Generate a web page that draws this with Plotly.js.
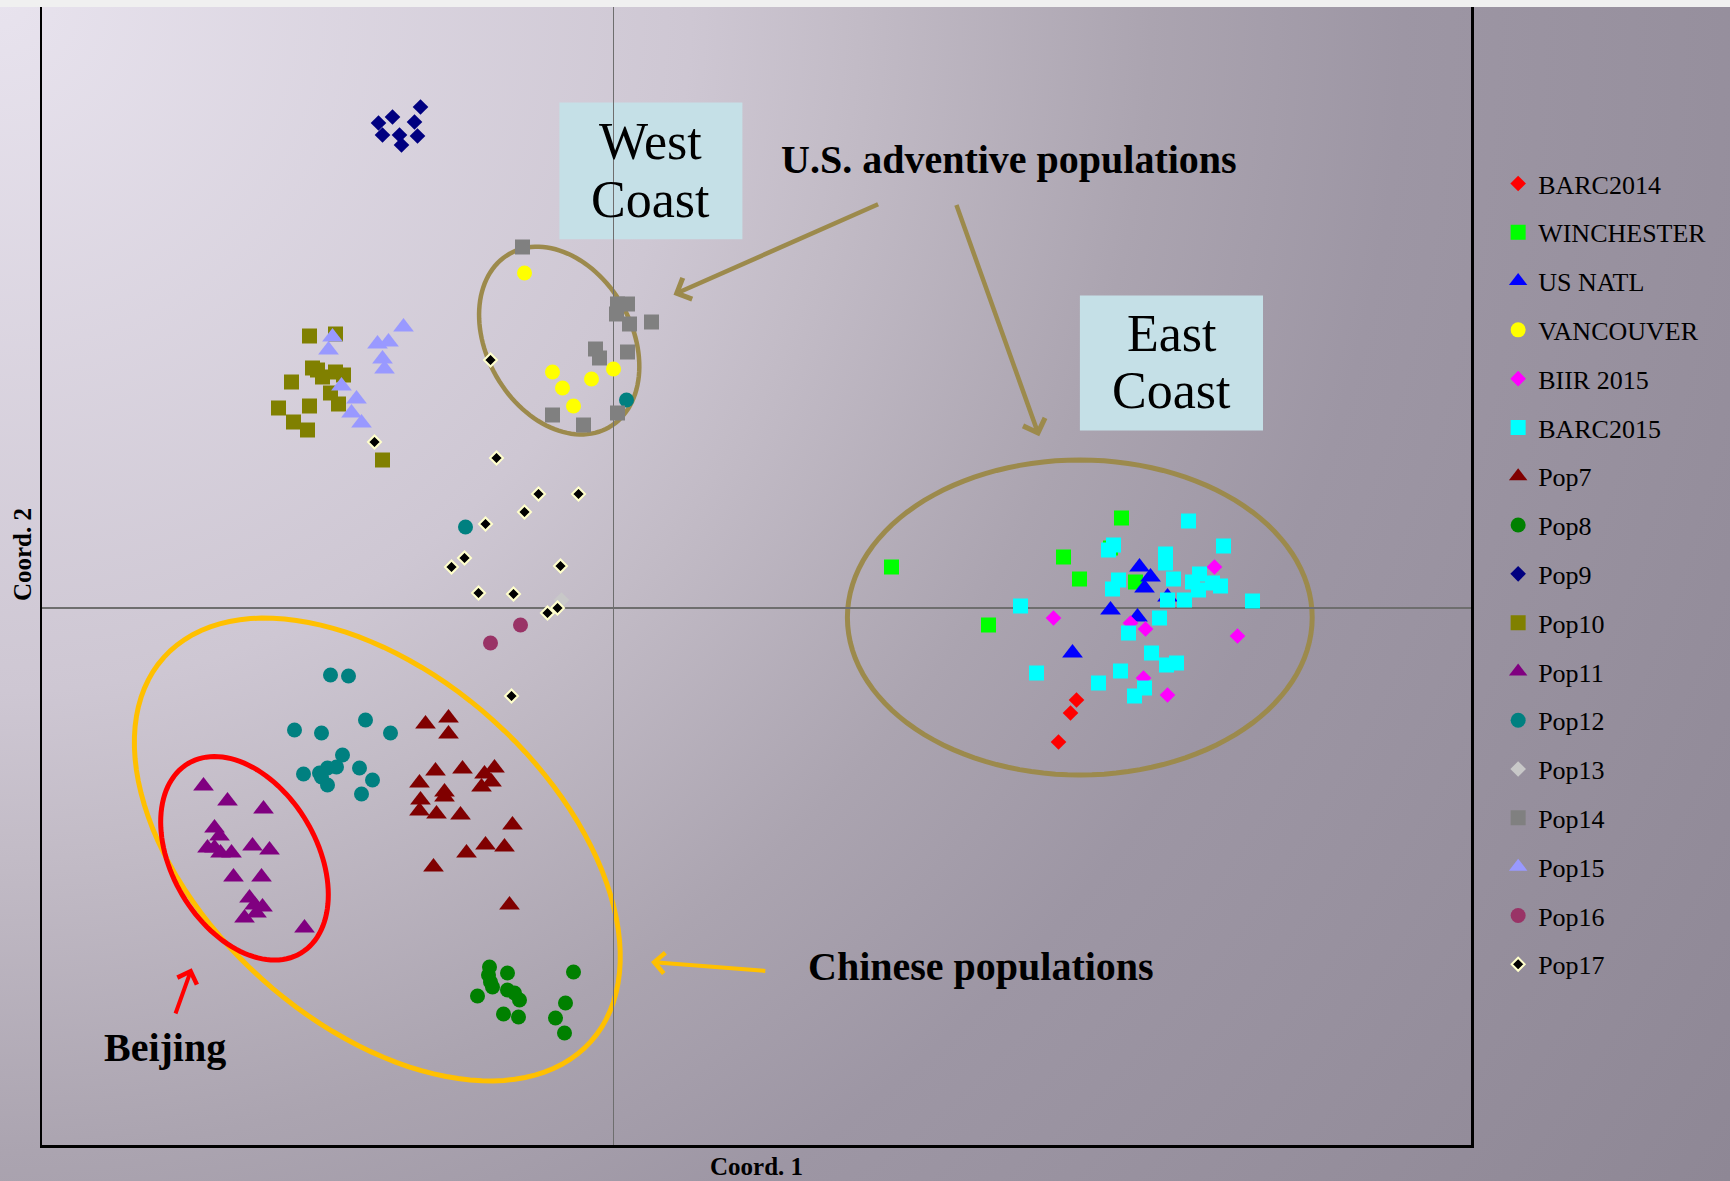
<!DOCTYPE html>
<html>
<head>
<meta charset="utf-8">
<script src="https://cdn.plot.ly/plotly-3.0.1.min.js"></script>
<style>
  html, body { margin: 0; padding: 0; background: #f0f0f0; }
  #chart {
    width: 1730px; height: 1181px;
    background:
      linear-gradient(#f0f0f0, #f0f0f0) top left / 100% 7px no-repeat,
      radial-gradient(circle farthest-corner at 0% 0%, #e8e3ee 0%, #cec7d3 33%, #c2bbc6 41%, #aba4b0 55%, #9d96a4 67%, #8e8795 100%);
  }
</style>
</head>
<body>
<div id="chart"></div>
<script>
// ---- Series names, colours and symbols ----
const seriesNames = ["BARC2014","WINCHESTER","US NATL","VANCOUVER","BIIR 2015","BARC2015",
  "Pop7","Pop8","Pop9","Pop10","Pop11","Pop12","Pop13","Pop14","Pop15","Pop16","Pop17"];

// ---- Coordinates (Coord. 1 = x, Coord. 2 = y) ----
const barc2014X = [4.63, 4.57, 4.45];
const barc2014Y = [-0.92, -1.05, -1.34];

const winchesterX = [5.08, 2.78, 4.50, 4.66, 3.75, 4.97, 5.22];
const winchesterY = [0.90, 0.41, 0.51, 0.29, -0.17, 0.60, 0.26];

const usNatlX = [5.26, 5.37, 5.31, 4.97, 5.24, 5.54, 4.59];
const usNatlY = [0.41, 0.31, 0.20, -0.02, -0.09, 0.11, -0.45];

const vancouverX = [-0.89, -0.61, -0.51, -0.40, -0.22, 0.00];
const vancouverY = [3.35, 2.36, 2.20, 2.02, 2.29, 2.39];

const biir2015X = [6.01, 4.40, 5.17, 5.32, 6.24, 5.30, 5.54];
const biir2015Y = [0.41, -0.10, -0.15, -0.21, -0.28, -0.70, -0.87];

const barc2015X = [5.75, 6.10, 5.00, 4.95, 5.52, 5.52, 5.60, 5.86, 5.79, 5.99, 6.07, 5.85, 5.05, 4.99,
  5.54, 5.71, 6.39, 4.07, 5.46, 5.15, 5.38, 5.53, 5.63, 4.23, 5.07, 4.85, 5.31, 5.21];
const barc2015Y = [0.87, 0.62, 0.63, 0.58, 0.54, 0.45, 0.29, 0.34, 0.26, 0.25, 0.22, 0.18, 0.28, 0.19,
  0.08, 0.08, 0.07, 0.02, -0.10, -0.25, -0.45, -0.57, -0.55, -0.65, -0.63, -0.75, -0.80, -0.88];

const pop7X = [-1.88, -1.65, -1.65, -1.78, -1.51, -1.29, -1.19, -1.22, -1.32, -1.94, -1.69, -1.69,
  -1.93, -1.94, -1.77, -1.53, -1.01, -1.28, -1.09, -1.47, -1.80, -1.04];
const pop7Y = [-1.16, -1.10, -1.26, -1.63, -1.61, -1.66, -1.60, -1.74, -1.79, -1.75, -1.84, -1.89,
  -1.92, -2.03, -2.06, -2.07, -2.17, -2.37, -2.39, -2.45, -2.59, -2.97];

const pop8X = [-1.24, -1.25, -1.23, -1.21, -1.06, -1.06, -0.99, -0.94, -1.36, -1.10, -0.95, -0.40, -0.48, -0.58, -0.49];
const pop8Y = [-3.59, -3.67, -3.74, -3.79, -3.65, -3.82, -3.85, -3.92, -3.88, -4.06, -4.09, -3.64, -3.95, -4.10, -4.25];

const pop9X = [-1.93, -2.21, -2.35, -1.99, -2.31, -2.14, -1.96, -2.12];
const pop9Y = [5.01, 4.91, 4.85, 4.86, 4.73, 4.73, 4.72, 4.63];

const pop10X = [-3.04, -2.78, -3.01, -2.96, -2.91, -2.78, -2.70, -3.22, -2.83, -2.75, -3.04, -3.35, -3.20, -3.06, -2.31];
const pop10Y = [2.72, 2.74, 2.40, 2.38, 2.31, 2.36, 2.33, 2.26, 2.15, 2.04, 2.02, 2.00, 1.86, 1.78, 1.48];

const pop11X = [-4.10, -3.86, -3.50, -3.99, -3.94, -4.06, -3.99, -3.93, -3.82, -3.61, -3.44, -3.80,
  -3.52, -3.64, -3.59, -3.51, -3.69, -3.57, -3.09];
const pop11Y = [-1.78, -1.93, -2.01, -2.20, -2.28, -2.40, -2.40, -2.45, -2.45, -2.38, -2.42, -2.69,
  -2.69, -2.90, -2.97, -2.99, -3.10, -3.05, -3.20];

const pop12X = [-2.83, -2.65, -3.19, -2.92, -2.48, -2.23, -2.71, -3.10, -2.94, -2.86, -2.77, -2.86,
  -2.54, -2.41, -2.52, -2.92, -1.48, 0.13];
const pop12Y = [-0.67, -0.68, -1.22, -1.25, -1.12, -1.25, -1.47, -1.66, -1.65, -1.60, -1.59, -1.77,
  -1.60, -1.72, -1.86, -1.69, 0.81, 2.08];

const pop13X = [-0.52];
const pop13Y = [0.08];

const pop14X = [-0.91, 0.04, 0.14, 0.03, 0.16, 0.38, -0.18, -0.14, 0.14, -0.61, -0.30, 0.04];
const pop14Y = [3.61, 3.04, 3.04, 2.94, 2.84, 2.86, 2.59, 2.50, 2.56, 1.93, 1.83, 1.95];

const pop15X = [-2.81, -2.85, -2.36, -2.25, -2.10, -2.31, -2.29, -2.72, -2.57, -2.62, -2.52];
const pop15Y = [2.71, 2.58, 2.64, 2.66, 2.81, 2.49, 2.39, 2.22, 2.09, 1.95, 1.85];

const pop16X = [-0.93, -1.23];
const pop16Y = [-0.17, -0.35];

const pop17X = [-1.23, -2.39, -1.17, -0.75, -0.35, -0.89, -1.28, -1.49, -1.62, -0.53, -1.35, -1.00, -0.66, -0.56, -1.02];
const pop17Y = [2.48, 1.66, 1.50, 1.14, 1.14, 0.96, 0.84, 0.50, 0.41, 0.42, 0.15, 0.14, -0.05, 0.00, -0.88];

const seriesX = [barc2014X, winchesterX, usNatlX, vancouverX, biir2015X, barc2015X, pop7X, pop8X, pop9X,
  pop10X, pop11X, pop12X, pop13X, pop14X, pop15X, pop16X, pop17X];
const seriesY = [barc2014Y, winchesterY, usNatlY, vancouverY, biir2015Y, barc2015Y, pop7Y, pop8Y, pop9Y,
  pop10Y, pop11Y, pop12Y, pop13Y, pop14Y, pop15Y, pop16Y, pop17Y];

// ---- Styles ----
const seriesColors = ["#ff0000","#00ff00","#0000ff","#ffff00","#ff00ff","#00ffff","#800000","#008000","#000080",
  "#808000","#800080","#008080","#c8c8c8","#808080","#9999ff","#993366","#000000"];
const seriesSymbols = ["diamond","square","triangle-up","circle","diamond","square","triangle-up","circle","diamond",
  "square","triangle-up","circle","diamond","square","triangle-up","circle","diamond"];
const symbolSize = {"diamond": 12, "square": 15, "triangle-up": 18, "circle": 15};

const traces = seriesNames.map((name, i) => {
  const sym = seriesSymbols[i];
  const isPop17 = name === "Pop17";
  return {
    type: "scatter", mode: "markers", name: name, legendgroup: name,
    x: seriesX[i], y: seriesY[i],
    marker: {
      symbol: sym, color: seriesColors[i],
      size: isPop17 ? 10 : symbolSize[sym],
      line: isPop17 ? {color: "#ffffcc", width: 2} : {width: 0}
    },
    hoverinfo: "name"
  };
});

// ---- Ellipse outlines ----
function ellipsePath(cx, cy, a, b, deg) {
  const t = deg * Math.PI / 180;
  const n = 120;
  let p = "";
  for (let i = 0; i <= n; i++) {
    const u = 2 * Math.PI * i / n;
    const x = cx + a * Math.cos(u) * Math.cos(t) - b * Math.sin(u) * Math.sin(t);
    const y = cy + a * Math.cos(u) * Math.sin(t) + b * Math.sin(u) * Math.cos(t);
    p += (i === 0 ? "M" : "L") + x.toFixed(4) + "," + y.toFixed(4);
  }
  return p + "Z";
}
const gold = "#9c8a4c";
const serif = "Liberation Serif, Times New Roman, serif";

const shapes = [
  {type: "path", xref: "x", yref: "y", layer: "below", path: ellipsePath(-0.543, 2.674, 1.00, 0.723, -60), line: {color: gold, width: 4.5}},
  {type: "path", xref: "x", yref: "y", layer: "below", path: ellipsePath(4.663, -0.095, 2.324, 1.575, 0), line: {color: gold, width: 5}},
  {type: "path", xref: "x", yref: "y", layer: "below", path: ellipsePath(-2.362, -2.415, 2.872, 1.735, -42), line: {color: "#ffc000", width: 5}},
  {type: "path", xref: "x", yref: "y", layer: "below", path: ellipsePath(-3.69, -2.503, 1.103, 0.722, -59.3), line: {color: "#ff0000", width: 5}},
  {type: "rect", xref: "x", yref: "y", layer: "below", x0: -0.541, x1: 1.289, y0: 3.688, y1: 5.054, fillcolor: "#c5e0e7", line: {width: 0}},
  {type: "rect", xref: "x", yref: "y", layer: "below", x0: 4.664, x1: 6.495, y0: 1.775, y1: 3.126, fillcolor: "#c5e0e7", line: {width: 0}}
];

function label(text, x, y, size, bold) {
  return {xref: "x", yref: "y", x: x, y: y, text: bold ? "<b>" + text + "</b>" : text, showarrow: false,
    xanchor: "center", yanchor: "middle", font: {family: serif, size: size, color: "#000000"}};
}
function arrow(x0, y0, x1, y1, color, width) {
  return {xref: "x", yref: "y", axref: "x", ayref: "y", x: x1, y: y1, ax: x0, ay: y0, text: "",
    showarrow: true, arrowhead: 4, arrowsize: 1, arrowwidth: width, arrowcolor: color, standoff: 0, startstandoff: 0};
}

const annotations = [
  label("West", 0.373, 4.661, 52, false),
  label("Coast", 0.373, 4.087, 52, false),
  label("East", 5.58, 2.747, 52, false),
  label("Coast", 5.58, 2.173, 52, false),
  label("U.S. adventive populations", 3.952, 4.485, 40, true),
  label("Chinese populations", 3.673, -3.586, 40, true),
  label("Beijing", -4.485, -4.393, 40, true),
  arrow(2.661, 4.044, 0.60, 3.133, gold, 4.5),
  arrow(3.424, 4.044, 4.257, 1.717, gold, 4.5),
  arrow(1.533, -3.63, 0.375, -3.54, "#ffc000", 4),
  arrow(-4.385, -4.07, -4.218, -3.603, "#ff0000", 4),
  {xref: "paper", yref: "paper", x: 0.5, y: -0.0193, text: "<b>Coord. 1</b>", showarrow: false,
    xanchor: "center", yanchor: "middle", font: {family: serif, size: 25, color: "#000000"}},
  {xref: "paper", yref: "paper", x: -0.014, y: 0.5193, text: "<b>Coord. 2</b>", showarrow: false, textangle: -90,
    xanchor: "center", yanchor: "middle", font: {family: serif, size: 25, color: "#000000"}}
];

const layout = {
  width: 1730, height: 1181,
  margin: {l: 42, r: 259, t: 7, b: 36, pad: 0},
  paper_bgcolor: "rgba(0,0,0,0)", plot_bgcolor: "rgba(0,0,0,0)",
  font: {family: serif, color: "#000000"},
  showlegend: true,
  legend: {
    x: 1.019, xanchor: "left", y: 0.8655, yanchor: "top",
    bgcolor: "rgba(0,0,0,0)", borderwidth: 0,
    font: {family: serif, size: 26, color: "#000000"},
    tracegroupgap: 12
  },
  xaxis: {range: [-5.715, 8.575], showgrid: false, zeroline: true, zerolinecolor: "#6e6e6e", zerolinewidth: 1.5,
    showticklabels: false, ticks: "", showline: true, linecolor: "#000000", linewidth: 2.5, mirror: false, fixedrange: true},
  yaxis: {range: [-5.37, 6.01], showgrid: false, zeroline: true, zerolinecolor: "#6e6e6e", zerolinewidth: 1.5,
    showticklabels: false, ticks: "", showline: true, linecolor: "#000000", linewidth: 2.5, mirror: true, fixedrange: true},
  shapes: shapes,
  annotations: annotations
};

Plotly.newPlot("chart", traces, layout, {displayModeBar: false, staticPlot: true});
</script>
</body>
</html>
